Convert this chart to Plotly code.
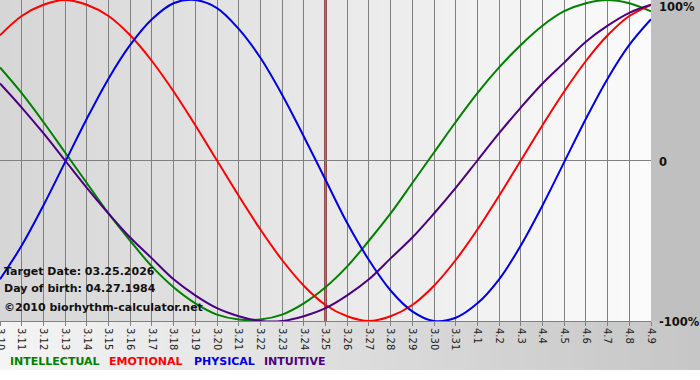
import plotly.graph_objects as go

days = ["3.10", "3.11", "3.12", "3.13", "3.14", "3.15", "3.16", "3.17", "3.18", "3.19",
        "3.20", "3.21", "3.22", "3.23", "3.24", "3.25", "3.26", "3.27", "3.28", "3.29",
        "3.30", "3.31", "4.1", "4.2", "4.3", "4.4", "4.5", "4.6", "4.7", "4.8", "4.9"]

intellectual = [0.58, 0.42, 0.24, 0.05, -0.14, -0.33, -0.50, -0.66, -0.79, -0.89,
                -0.96, -0.99, -0.99, -0.96, -0.89, -0.79, -0.66, -0.50, -0.33, -0.14,
                0.05, 0.24, 0.42, 0.58, 0.72, 0.84, 0.93, 0.98, 1.00, 0.98, 0.93]
emotional = [0.78, 0.90, 0.97, 1.00, 0.97, 0.90, 0.78, 0.62, 0.43, 0.22,
             0.00, -0.22, -0.43, -0.62, -0.78, -0.90, -0.97, -1.00, -0.97, -0.90,
             -0.78, -0.62, -0.43, -0.22, 0.00, 0.22, 0.43, 0.62, 0.78, 0.90, 0.97]
physical = [-0.74, -0.53, -0.28, -0.01, 0.26, 0.51, 0.72, 0.88, 0.98, 1.00,
            0.95, 0.82, 0.64, 0.41, 0.15, -0.12, -0.39, -0.62, -0.81, -0.94,
            -1.00, -0.98, -0.89, -0.74, -0.53, -0.28, -0.01, 0.26, 0.51, 0.72, 0.88]
intuitive = [0.48, 0.33, 0.17, 0.00, -0.17, -0.33, -0.48, -0.61, -0.74, -0.84,
             -0.92, -0.97, -1.00, -1.00, -0.97, -0.92, -0.84, -0.74, -0.61, -0.48,
             -0.33, -0.17, 0.00, 0.17, 0.33, 0.48, 0.61, 0.74, 0.84, 0.92, 0.97]

target_day = "3.25"
series = [("INTELLECTUAL", intellectual, "#008000"),
          ("EMOTIONAL", emotional, "#ff0000"),
          ("PHYSICAL", physical, "#0000e6"),
          ("INTUITIVE", intuitive, "#4b0082")]
info_lines = ["Target Date: 03.25.2026", "Day of birth: 04.27.1984", "\u00a92010 biorhythm-calculator.net"]
y_labels = ["100%", "0", "-100%"]

W, H = 700, 380
L, R, T, B = 0, 49, 0, 59
PW, PH = W - L - R, H - T - B
xi = list(range(len(days)))

fig = go.Figure()
for name, vals, col in series:
    fig.add_trace(go.Scatter(x=xi, y=vals, mode="lines", name=name,
                             line=dict(color=col, width=2, shape="spline", smoothing=1.0),
                             hoverinfo="skip", showlegend=False))

def lerp(c1, c2, t):
    a = [int(c1[i:i + 2], 16) for i in (1, 3, 5)]
    b = [int(c2[i:i + 2], 16) for i in (1, 3, 5)]
    return "#%02x%02x%02x" % tuple(round(a[k] + (b[k] - a[k]) * t) for k in range(3))

shapes = []
N = 60
# plot area gradient
for k in range(N):
    shapes.append(dict(type="rect", xref="paper", yref="paper", layer="below",
                       x0=k / N, x1=(k + 1) / N + 0.002, y0=0, y1=1,
                       fillcolor=lerp("#d6d6d6", "#fbfbfb", k / (N - 1)), line=dict(width=0)))
# right grey panel
shapes.append(dict(type="rect", xref="paper", yref="paper", layer="below",
                   x0=1, x1=W / PW, y0=0, y1=1, fillcolor="#c0c0c0", line=dict(width=0)))
# bottom band gradient
band_bottom = -(370 - PH) / PH
for k in range(N):
    shapes.append(dict(type="rect", xref="paper", yref="paper", layer="below",
                       x0=k / N * W / PW, x1=((k + 1) / N + 0.002) * W / PW, y0=band_bottom, y1=0,
                       fillcolor=lerp("#f4f4f4", "#c6c6c6", k / (N - 1)), line=dict(width=0)))
# target line
ti = days.index(target_day)
shapes.append(dict(type="line", xref="x", yref="paper", layer="between",
                   x0=ti, x1=ti, y0=0, y1=1, line=dict(color="#7a1c1c", width=2.5)))

ann = []
for txt, ypx in zip(y_labels, [7, 162, 322]):
    ann.append(dict(text="<b>%s</b>" % txt, xref="paper", yref="paper",
                    x=(657 - L) / PW, y=1 - (ypx - T) / PH, xanchor="left", yanchor="middle",
                    showarrow=False, font=dict(family="DejaVu Sans", size=11.5, color="#111")))
for txt, ypx in zip(info_lines, [271, 288, 307]):
    ann.append(dict(text="<b>%s</b>" % txt, xref="paper", yref="paper",
                    x=2 / PW, y=1 - ypx / PH, xanchor="left", yanchor="middle",
                    showarrow=False, font=dict(family="DejaVu Sans", size=11, color="#111")))
leg_x = [8, 107, 192, 262]
for (name, vals, col), xp in zip(series, leg_x):
    ann.append(dict(text="<b>%s</b>" % name, xref="paper", yref="paper",
                    x=xp / PW, y=1 - 361 / PH, xanchor="left", yanchor="middle",
                    showarrow=False, font=dict(family="DejaVu Sans", size=11, color=col)))

fig.update_layout(
    width=W, height=H, margin=dict(l=L, r=R, t=T, b=B, autoexpand=False),
    paper_bgcolor="white", plot_bgcolor="rgba(0,0,0,0)",
    shapes=shapes, annotations=ann,
    xaxis=dict(range=[0, len(days) - 1], tickmode="array", tickvals=xi, ticktext=days,
               tickangle=90, showgrid=True, gridcolor="#808080", gridwidth=1,
               ticks="outside", ticklen=4, tickcolor="#808080", ticklabeloverflow="allow",
               automargin=False,
               showline=True, linecolor="#808080", linewidth=1, zeroline=False,
               tickfont=dict(family="DejaVu Sans", size=10, color="#222")),
    yaxis=dict(range=[-1, 1], showgrid=False, zeroline=True, zerolinecolor="#808080",
               zerolinewidth=1, showticklabels=False, ticks="", automargin=False),
)
fig.write_html("out.html", config={"displayModeBar": False, "staticPlot": True},
               post_script="document.body.style.margin='0';document.body.style.overflow='hidden';")
